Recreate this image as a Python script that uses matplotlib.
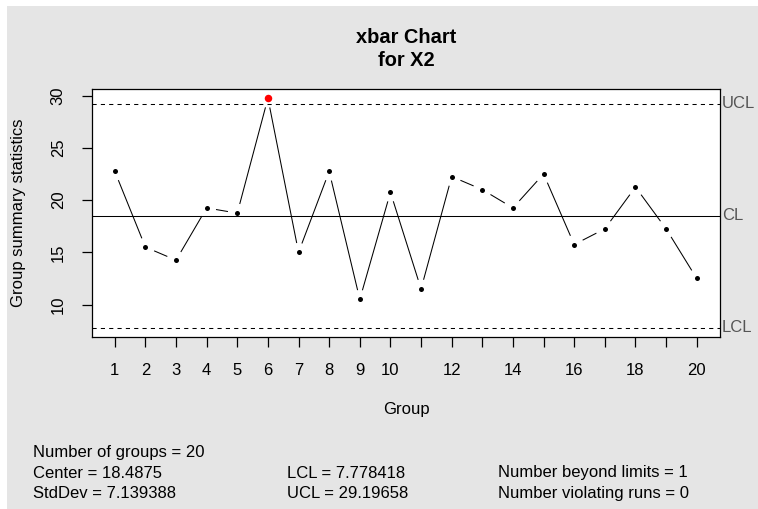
import numpy as np
import matplotlib
matplotlib.use('Agg')
import matplotlib.pyplot as plt
from matplotlib.patches import Rectangle

plt.rcParams['font.family'] = ['Liberation Sans', 'DejaVu Sans']

# group means
groups = list(range(1, 21))
xbar = [22.75, 15.5, 14.25, 19.25, 18.75, 29.75, 15.0, 22.75, 10.5, 20.75,
        11.5, 22.25, 21.0, 19.25, 22.5, 15.75, 17.25, 21.25, 17.25, 12.5]
center = 18.4875
lcl = 7.778418
ucl = 29.19658
stddev = 7.139388
xtick_labels = ['1', '2', '3', '4', '5', '6', '7', '8', '9', '10',
                '', '12', '', '14', '', '16', '', '18', '', '20']
yticks = [10, 15, 20, 25, 30]

W, H = 758, 509
fig = plt.figure(figsize=(W / 100, H / 100), dpi=100)
fig.patch.set_facecolor('white')
fig.patches.append(Rectangle((7 / W, 0), 1, 1 - 6 / H, transform=fig.transFigure,
                             facecolor='#e5e5e5', edgecolor='none', zorder=-10))

def fx(px):
    return px / W

def fy(py):
    return 1 - py / H

ax = fig.add_axes([fx(91.5), fy(337), fx(720) - fx(91.5), fy(89) - fy(337)])
ax.set_facecolor('white')

# R-style 4% axis expansion
lo, hi = min(lcl, min(xbar)), max(ucl, max(xbar))
ax.set_ylim(lo - 0.04 * (hi - lo), hi + 0.04 * (hi - lo))
ax.set_xlim(1 - 0.04 * 19, 20 + 0.04 * 19)

for sp in ax.spines.values():
    sp.set_linewidth(0.9)
    sp.set_color('black')

# limit lines
ax.axhline(center, color='black', lw=0.75)
ax.axhline(ucl, color='black', lw=0.75, ls=(0, (4, 4)))
ax.axhline(lcl, color='black', lw=0.75, ls=(0, (4, 4)))

# type="b" style: segments with gaps around the points
gap = 10
x = np.array(groups, dtype=float)
y = np.array(xbar)
inv = ax.transData.inverted()
for i in range(len(x) - 1):
    p0 = ax.transData.transform((x[i], y[i]))
    p1 = ax.transData.transform((x[i + 1], y[i + 1]))
    d = p1 - p0
    L = np.hypot(*d)
    if L > 2 * gap:
        a = inv.transform(p0 + d / L * gap)
        b = inv.transform(p1 - d / L * gap)
        ax.plot([a[0], b[0]], [a[1], b[1]], color='black', lw=0.75)

out = (y > ucl) | (y < lcl)
ax.plot(x[~out], y[~out], 'o', color='black', ms=3.6, mew=0)
ax.plot(x[out], y[out], 'o', color='red', ms=5.4, mew=0)

ax.set_xticks(groups)
ax.set_xticklabels(xtick_labels)
ax.set_yticks(yticks)
ax.tick_params(axis='both', direction='out', length=7.5, width=0.9, labelsize=12)
ax.tick_params(axis='x', pad=11)
ax.tick_params(axis='y', pad=11)
for lab in ax.get_yticklabels():
    lab.set_rotation(90)
    lab.set_va('center')

# limit labels on the right
for val, name in [(ucl, 'UCL'), (center, 'CL'), (lcl, 'LCL')]:
    ax.text(1.003, val, name, transform=ax.get_yaxis_transform(), ha='left',
            va='center', fontsize=12, color='#555555')

# titles and axis labels
fig.text(fx(406), fy(43), 'xbar Chart', ha='center', va='baseline',
         fontsize=14.4, fontweight='bold')
fig.text(fx(406), fy(66.5), 'for X2', ha='center', va='baseline',
         fontsize=14.4, fontweight='bold')
fig.text(fx(406), fy(414), 'Group', ha='center', va='baseline', fontsize=12)
fig.text(fx(19), fy(213), 'Group summary statistics', ha='center', va='center',
         rotation=90, fontsize=12)

# summary statistics
rows = [457, 477.5, 498]
fig.text(fx(33), fy(rows[0]), 'Number of groups = %d' % len(groups), fontsize=12, va='baseline')
fig.text(fx(33), fy(rows[1]), 'Center = %s' % center, fontsize=12, va='baseline')
fig.text(fx(33), fy(rows[2]), 'StdDev = %s' % stddev, fontsize=12, va='baseline')
fig.text(fx(287), fy(rows[1]), 'LCL = %s' % lcl, fontsize=12, va='baseline')
fig.text(fx(287), fy(rows[2]), 'UCL = %s' % ucl, fontsize=12, va='baseline')
fig.text(fx(498), fy(rows[1]), 'Number beyond limits = %d' % out.sum(), fontsize=12, va='baseline')
fig.text(fx(498), fy(rows[2]), 'Number violating runs = 0', fontsize=12, va='baseline')

fig.savefig('out.png', dpi=100)
